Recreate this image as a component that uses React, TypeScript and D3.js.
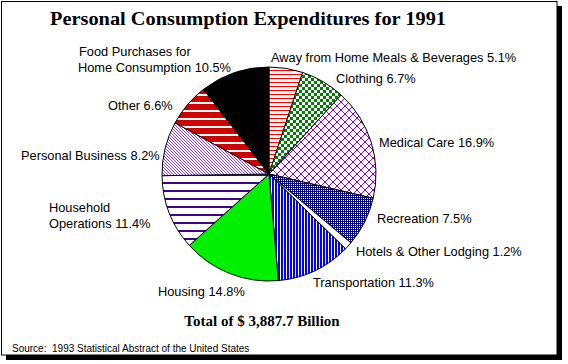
import React from 'react';
import * as d3 from 'd3';

// 1991 personal consumption shares (percent), clockwise from 12 o'clock
const categories = [
    'Away from Home Meals & Beverages',
    'Clothing',
    'Medical Care',
    'Recreation',
    'Hotels & Other Lodging',
    'Transportation',
    'Housing',
    'Household\nOperations',
    'Personal Business',
    'Other',
    'Food Purchases for\nHome Consumption'
];
const shares = [5.1, 6.7, 16.9, 7.5, 1.2, 11.3, 14.8, 11.4, 8.2, 6.6, 10.5];
const totalBillions = 3887.7;
const sourceNote = 'Source:  1993 Statistical Abstract of the United States';

// fill pattern per slice (same order as categories)
const fills = [
    'url(#pAway)', 'url(#pCloth)', 'url(#pMed)', 'url(#pRec)', '#ffffff',
    'url(#pTrans)', '#00f000', 'url(#pHouseOps)', 'url(#pPers)', 'url(#pOther)', '#000000'
];

// label anchor (left edge, first baseline) per slice
const labelAt = [
    [271, 62], [336, 83], [379, 147], [377, 223], [356, 256],
    [313, 287], [158, 296], [49, 212], [21, 160], [108, 110], [79, 56]
];

const W = 568;
const H = 364;
const cx = 269;
const cy = 174;
const radius = 107;
const sans = '"Liberation Sans", Arial, sans-serif';
const serif = '"Liberation Serif", "Times New Roman", serif';

// one-pixel diagonal steps for crisp hatching
const steps = (n: number) => d3.range(n);

const App = () => {
    const pie = d3.pie<number>().sort(null).value(d => d).startAngle(0).endAngle(2 * Math.PI);
    const arc = d3.arc<d3.PieArcDatum<number>>().innerRadius(0).outerRadius(radius);
    const arcs = pie(shares);
    const fmt = d3.format(',.1f');

    return (
        <div style={{ position: 'absolute', left: 0, top: 0 }}>
            <svg width={W} height={H} style={{ display: 'block', background: '#fff' }}>
                <defs>
                    <pattern id="pAway" width="4" height="4" patternUnits="userSpaceOnUse">
                        <rect width="4" height="4" fill="#fff" />
                        <rect width="4" height="1" fill="#ff0000" />
                    </pattern>
                    <pattern id="pCloth" width="6" height="6" patternUnits="userSpaceOnUse">
                        <rect width="6" height="6" fill="#fff" />
                        <rect width="3" height="3" fill="#008000" />
                        <rect x="3" y="3" width="3" height="3" fill="#008000" />
                    </pattern>
                    <pattern id="pMed" width="8" height="8" patternUnits="userSpaceOnUse">
                        <rect width="8" height="8" fill="#fff" />
                        {steps(8).map(k => (
                            <g key={k}>
                                <rect x={k} y={k} width="1" height="1" fill="#8000ff" />
                                <rect x={7 - k} y={k} width="1" height="1" fill="#8000ff" />
                            </g>
                        ))}
                    </pattern>
                    <pattern id="pRec" width="4" height="4" patternUnits="userSpaceOnUse">
                        <rect width="4" height="4" fill="#000080" />
                        <rect width="1" height="1" fill="#fff" />
                        <rect x="2" y="2" width="1" height="1" fill="#fff" />
                        <rect x="2" y="0" width="1" height="1" fill="#fff" />
                        <rect x="0" y="2" width="1" height="1" fill="#fff" />
                    </pattern>
                    <pattern id="pTrans" width="3" height="3" patternUnits="userSpaceOnUse">
                        <rect width="3" height="3" fill="#fff" />
                        <rect width="2" height="3" fill="#0000ff" />
                    </pattern>
                    <pattern id="pHouseOps" width="8" height="8" patternUnits="userSpaceOnUse">
                        <rect width="8" height="8" fill="#fff" />
                        <rect width="8" height="2" fill="#400090" />
                    </pattern>
                    <pattern id="pPers" width="3" height="3" patternUnits="userSpaceOnUse">
                        <rect width="3" height="3" fill="#fff" />
                        {steps(3).map(k => (
                            <rect key={k} x={k} y={k} width="1" height="1" fill="#8a3cff" />
                        ))}
                    </pattern>
                    <pattern id="pOther" width="8" height="8" patternUnits="userSpaceOnUse">
                        <rect width="8" height="8" fill="#d00000" />
                        <rect width="8" height="2" fill="#fff" />
                    </pattern>
                </defs>

                {/* frame with drop shadow */}
                <rect x={557} y={6} width={5} height={354} fill="#000" />
                <rect x={6} y={355} width={556} height={5} fill="#000" />
                <rect x={1.5} y={1.5} width={555.5} height={353.5} fill="#fff" stroke="#000" strokeWidth={1} />

                <text x={50} y={25} fontFamily={serif} fontWeight="bold" fontSize={19}
                    textLength={396} lengthAdjust="spacingAndGlyphs">
                    Personal Consumption Expenditures for 1991
                </text>

                <g transform={`translate(${cx},${cy})`}>
                    {arcs.map((a, i) => (
                        <path key={i} d={arc(a) || ''} fill={fills[i]} stroke="#000" strokeWidth={1} />
                    ))}
                </g>

                {arcs.map((a, i) => {
                    const lines = (categories[i] + ' ' + shares[i].toFixed(1) + '%').split('\n');
                    return (
                        <text key={i} fontFamily={sans} fontSize={12.8} fill="#000">
                            {lines.map((ln, j) => (
                                <tspan key={j} x={labelAt[i][0] - (j > 0 && i === 10 ? 1 : 0)} y={labelAt[i][1] + j * 15.5}>{ln}</tspan>
                            ))}
                        </text>
                    );
                })}

                <text x={262} y={326} textAnchor="middle" fontFamily={serif} fontWeight="bold" fontSize={15}>
                    {`Total of $ ${fmt(totalBillions)} Billion`}
                </text>

                <text x={12} y={352} fontFamily={sans} fontSize={10} style={{ whiteSpace: 'pre' }}>
                    {sourceNote}
                </text>
            </svg>
        </div>
    );
};

export default App;
